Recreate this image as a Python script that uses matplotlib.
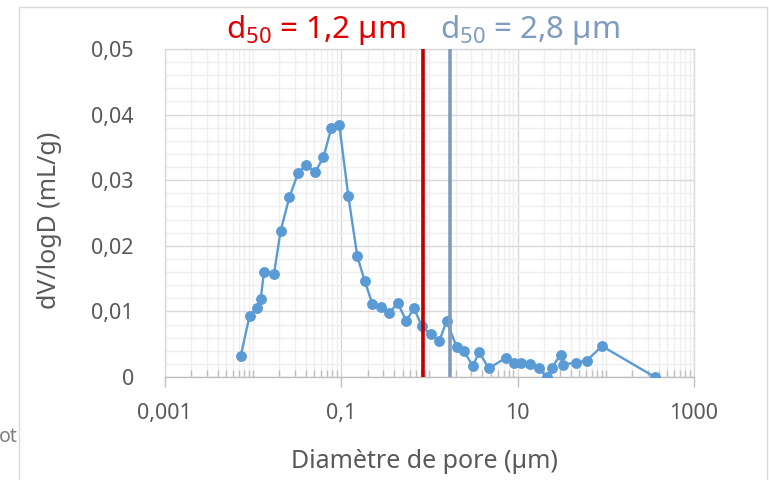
import matplotlib
matplotlib.use("Agg")
import matplotlib.pyplot as plt
from matplotlib.ticker import FixedLocator, FuncFormatter, MultipleLocator
from matplotlib.patches import Rectangle

plt.rcParams['font.family'] = ['Noto Sans', 'DejaVu Sans']
plt.rcParams['mathtext.default'] = 'regular'

# ---- data ----
diameter = [0.0073, 0.0092, 0.0111, 0.0123, 0.0134, 0.0174, 0.0207, 0.026, 0.0326, 0.0402,
            0.0508, 0.0631, 0.0776, 0.0957, 0.121, 0.153, 0.185, 0.226, 0.284, 0.350,
            0.439, 0.550, 0.671, 0.827, 1.04, 1.30, 1.57, 2.04, 2.49, 3.10,
            3.70, 4.71, 7.33, 9.10, 11.1, 13.8, 17.3, 21.4, 24.5, 30.8,
            33.0, 45.5, 60.7, 91.0, 360]
dvlogd = [0.0032, 0.0093, 0.0105, 0.0119, 0.0160, 0.0157, 0.0223, 0.0274, 0.0311, 0.0323,
          0.0312, 0.0335, 0.0379, 0.0384, 0.0276, 0.0184, 0.0147, 0.0112, 0.0106, 0.0097,
          0.0113, 0.0085, 0.0105, 0.0077, 0.0065, 0.0055, 0.0085, 0.0046, 0.0039, 0.0017,
          0.0038, 0.0013, 0.0029, 0.0021, 0.0022, 0.0020, 0.0013, 0.0000, 0.0014, 0.0034,
          0.0019, 0.0022, 0.0025, 0.0047, 0.0000]
d50_lines = [0.855, 1.72]
d50_labels = [r"d$_{50}$ = 1,2 µm", r"d$_{50}$ = 2,8 µm"]
x_major = [0.001, 0.1, 10, 1000]
x_major_labels = ["0,001", "0,1", "10", "1000"]

W, H = 769, 480
fig = plt.figure(figsize=(W / 100, H / 100), dpi=100)

# outer chart border
fig.patches.append(Rectangle((19 / W, -0.02), (767 - 19) / W, 1.02 - 7 / H,
                             transform=fig.transFigure, fill=False,
                             edgecolor='#d9d9d9', linewidth=1.0))

ax = fig.add_axes([164.5 / W, (H - 377) / H, (694 - 164.5) / W, (377 - 49) / H])

ax.plot(diameter, dvlogd, color='#5B9BD5', linewidth=1.7, marker='o',
        markersize=6.8, markerfacecolor='#5B9BD5', markeredgecolor='#5B9BD5',
        zorder=3)

line_colors = ['#C00000', '#7F9CC0']
for xv, c in zip(d50_lines, line_colors):
    ax.axvline(xv, color=c, linewidth=2.6, zorder=4)

ax.set_xscale('log')
ax.set_xlim(0.001, 1000)
ax.set_ylim(0, 0.05)

minor_pos = []
for e in range(-3, 3):
    for k in range(1, 10):
        v = k * 10.0 ** e
        if not any(abs(v - m) / m < 1e-9 for m in x_major):
            minor_pos.append(v)
ax.xaxis.set_major_locator(FixedLocator(x_major))
ax.xaxis.set_major_formatter(FuncFormatter(
    lambda v, p: x_major_labels[min(range(len(x_major)), key=lambda i: abs(x_major[i] - v) / x_major[i])]))
ax.xaxis.set_minor_locator(FixedLocator(minor_pos))
ax.xaxis.set_minor_formatter(FuncFormatter(lambda v, p: ""))

ax.yaxis.set_major_locator(MultipleLocator(0.01))
ax.yaxis.set_minor_locator(MultipleLocator(0.002))
ax.yaxis.set_major_formatter(FuncFormatter(
    lambda v, p: "0" if abs(v) < 1e-12 else ("%.2f" % v).replace('.', ',')))

ax.grid(which='major', color='#d9d9d9', linewidth=1.0, zorder=0)
ax.grid(which='minor', color='#efefef', linewidth=1.0, zorder=0)
ax.set_axisbelow(True)

ax.tick_params(axis='x', which='major', direction='out', length=7, width=1,
               color='#bfbfbf', labelsize=15.5, labelcolor='#595959', pad=12)
ax.tick_params(axis='x', which='minor', direction='in', length=5, width=1,
               color='#bfbfbf')
ax.tick_params(axis='y', which='both', length=0, labelsize=15.5,
               labelcolor='#595959', pad=22)

for s in ['top', 'right', 'left']:
    ax.spines[s].set_color('#d9d9d9')
ax.spines['bottom'].set_color('#bfbfbf')
for s in ax.spines.values():
    s.set_linewidth(1.0)

fig.text(424 / W, 1 - 462 / H, "Diamètre de pore (µm)", ha='center', va='center',
         fontsize=18, color='#595959')
fig.text(50 / W, 1 - 220 / H, "dV/logD (mL/g)", ha='center', va='center',
         rotation=90, fontsize=18, color='#595959')

fig.text(226 / W, 1 - 38 / H, d50_labels[0], ha='left', va='baseline',
         fontsize=22.5, color='#E00000')
fig.text(440 / W, 1 - 38 / H, d50_labels[1], ha='left', va='baseline',
         fontsize=22.5, color='#7F9CC0')

fig.text(18 / W, 1 - 437 / H, "ot", ha='right', va='center', fontsize=14,
         color='#7f7f7f')

fig.savefig("out.png", dpi=100)
